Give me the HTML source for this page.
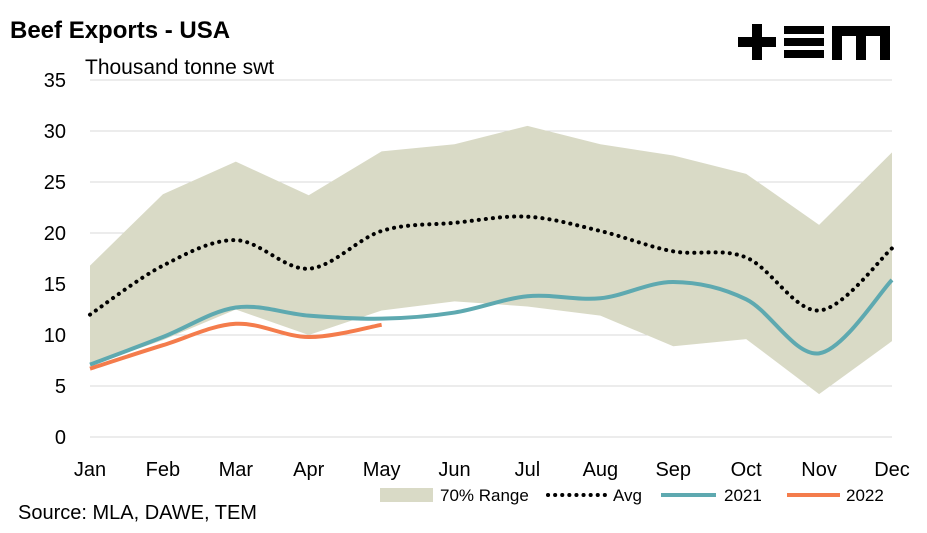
<!DOCTYPE html>
<html><head><meta charset="utf-8"><style>
body{margin:0;background:#fff;font-family:"Liberation Sans",Arial,sans-serif}
svg text{font-family:"Liberation Sans",Arial,sans-serif;fill:#000}
</style></head><body>
<svg id="c" width="927" height="528" viewBox="0 0 927 528">
<text x="10" y="38" font-size="24" font-weight="bold">Beef Exports - USA</text>
<text x="85" y="74" font-size="21">Thousand tonne swt</text>
<g fill="#000">
<rect x="738" y="37" width="38" height="10"/><rect x="752" y="24" width="10" height="36"/>
<rect x="784" y="26" width="40" height="8"/><rect x="784" y="38" width="40" height="8"/><rect x="784" y="50" width="40" height="8"/>
<path d="M832 26 H890 V60 H880 V36 H866 V60 H856 V36 H842 V60 H832 Z"/>
</g>
<g id="grid"></g><g id="marks"></g><g id="axes"></g>
<text x="18" y="519" font-size="20">Source: MLA, DAWE, TEM</text>
<g>
<rect x="380" y="488" width="53" height="14" fill="#d9dac6"/>
<text x="440" y="501" font-size="17">70% Range</text>
<line x1="548" y1="495" x2="606" y2="495" stroke="#000" stroke-width="4" stroke-dasharray="0.1 7" stroke-linecap="round"/>
<text x="613" y="501" font-size="17">Avg</text>
<line x1="661" y1="495" x2="716" y2="495" stroke="#5ea9b0" stroke-width="4"/>
<text x="724" y="501" font-size="17">2021</text>
<line x1="787" y1="495" x2="840" y2="495" stroke="#f47c4c" stroke-width="4"/>
<text x="846" y="501" font-size="17">2022</text>
</g>
</svg>
<script>
const months=["Jan","Feb","Mar","Apr","May","Jun","Jul","Aug","Sep","Oct","Nov","Dec"];
const yTicks=[0,5,10,15,20,25,30,35];
const rangeHigh=[16.8,23.8,27,23.7,28,28.7,30.5,28.7,27.6,25.8,20.8,27.9];
const rangeLow=[7,9.5,12.5,10,12.4,13.3,12.8,11.9,8.9,9.6,4.2,9.4];
const avg=[12,16.8,19.3,16.5,20.2,21,21.6,20.2,18.2,17.6,12.4,18.5];
const y2021=[7.1,9.8,12.7,11.9,11.6,12.2,13.8,13.6,15.2,13.5,8.2,15.4];
const y2022=[6.7,9,11.1,9.8,11];
const NS="http://www.w3.org/2000/svg";
const x=i=>90+i*(802/11);
const y=v=>437-v*(357/35);
function mk(tag,attrs,parent){const e=document.createElementNS(NS,tag);for(const k in attrs)e.setAttribute(k,attrs[k]);document.getElementById(parent).appendChild(e);return e;}
function smooth(vals){const p=vals.map((v,i)=>[x(i),y(v)]);let d=`M${p[0][0]},${p[0][1]}`;
for(let i=0;i<p.length-1;i++){const p0=p[i-1]||p[i],p1=p[i],p2=p[i+1],p3=p[i+2]||p2;const t=6;
d+=` C${p1[0]+(p2[0]-p0[0])/t},${p1[1]+(p2[1]-p0[1])/t} ${p2[0]-(p3[0]-p1[0])/t},${p2[1]-(p3[1]-p1[1])/t} ${p2[0]},${p2[1]}`;}return d;}
yTicks.forEach(t=>{
 if(t>0){const g=mk('line',{x1:90,x2:892,y1:y(t),y2:y(t),stroke:'#d9d9d9','stroke-width':1},'grid');
 
 }
 const l=mk('text',{x:66,y:y(t)+7,'font-size':20,'text-anchor':'end'},'axes');l.textContent=t;
 
 
});
const ax=mk('line',{x1:90,x2:892,y1:y(0),y2:y(0),stroke:'#d9d9d9','stroke-width':1},'axes');


months.forEach((m,i)=>{const l=mk('text',{x:x(i),y:476,'font-size':20,'text-anchor':'middle'},'axes');l.textContent=m;
 
 });
let pts=rangeHigh.map((v,i)=>x(i)+','+y(v)).concat(rangeLow.map((v,i)=>[i,v]).reverse().map(([i,v])=>x(i)+','+y(v)));
const band=mk('polygon',{points:pts.join(' '),fill:'#d9dac6'},'marks');


const a=mk('path',{d:smooth(avg),fill:'none',stroke:'#000','stroke-width':4,'stroke-dasharray':'0.1 7','stroke-linecap':'round'},'marks');


const l1=mk('path',{d:smooth(y2021),fill:'none',stroke:'#5ea9b0','stroke-width':4},'marks');


const l2=mk('path',{d:smooth(y2022),fill:'none',stroke:'#f47c4c','stroke-width':4},'marks');


</script>
</body></html>
